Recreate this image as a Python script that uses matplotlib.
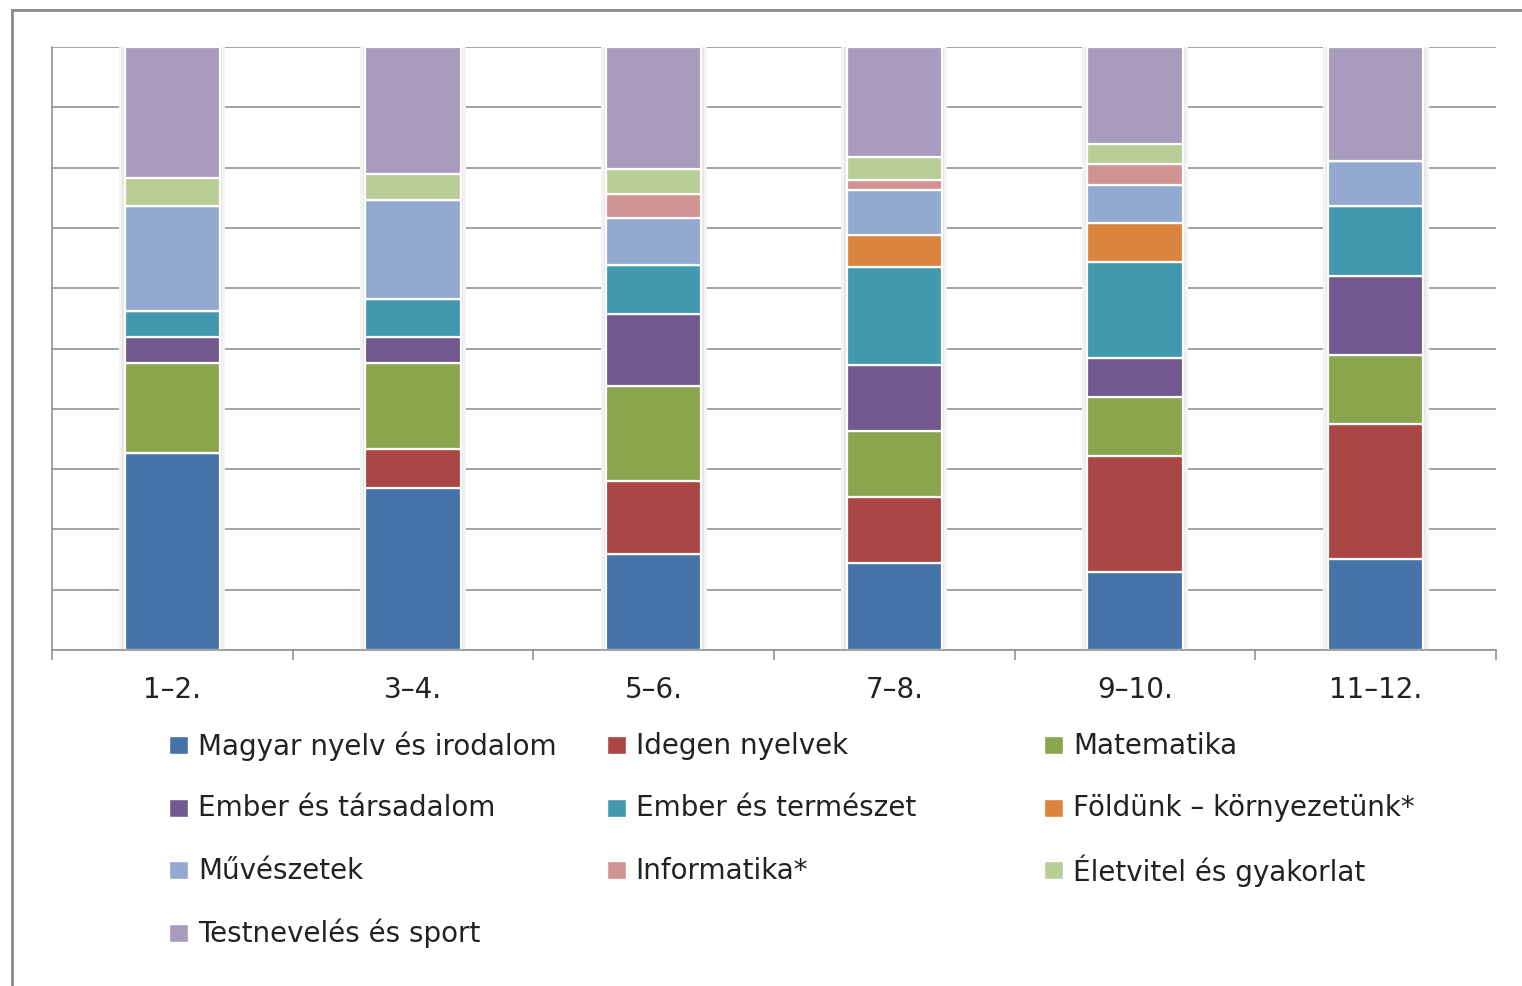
import numpy as np
import matplotlib
matplotlib.use("Agg")
import matplotlib.pyplot as plt
from matplotlib.patches import Rectangle
from matplotlib.lines import Line2D

plt.rcParams['font.family'] = ['DejaVu Sans']

grades = ['1–2.', '3–4.', '5–6.', '7–8.', '9–10.', '11–12.']

subjects = ['Magyar nyelv és irodalom', 'Idegen nyelvek', 'Matematika',
            'Ember és társadalom', 'Ember és természet', 'Földünk – környezetünk*',
            'Művészetek', 'Informatika*', 'Életvitel és gyakorlat',
            'Testnevelés és sport']

# share of each subject (%), per grade group
magyar = [32.6, 26.9, 16.0, 14.4, 12.9, 15.1]
idegen = [0.0, 6.5, 12.0, 11.0, 19.2, 22.3]
matek = [15.0, 14.2, 15.8, 10.9, 9.8, 11.5]
tarsadalom = [4.3, 4.3, 12.0, 11.0, 6.5, 13.1]
termeszet = [4.3, 6.3, 8.0, 16.2, 15.9, 11.7]
foldunk = [0.0, 0.0, 0.0, 5.3, 6.5, 0.0]
muveszet = [17.4, 16.5, 7.9, 7.5, 6.3, 7.4]
info = [0.0, 0.0, 4.0, 1.6, 3.5, 0.0]
eletvitel = [4.6, 4.2, 4.1, 3.8, 3.3, 0.0]
testneveles = [21.8, 21.1, 20.2, 18.3, 16.1, 18.9]

series = [magyar, idegen, matek, tarsadalom, termeszet, foldunk,
          muveszet, info, eletvitel, testneveles]
colors = ['#4572A7', '#AA4643', '#89A54E', '#71588F', '#4198AF',
          '#DB843D', '#93A9CF', '#D19392', '#B9CD96', '#A99BBD']

W, H = 1522, 986
fig = plt.figure(figsize=(W / 100, H / 100), dpi=100)
ax = fig.add_axes([52 / W, 1 - 650 / H, (1496 - 52) / W, (650 - 47) / H])

x = np.arange(len(grades))
data = np.array(series, dtype=float)
data = data / data.sum(axis=0) * 100

# soft shadow behind the bars
ax.bar(x, 100, width=0.44, color='#f3f3f3', zorder=1.5)
ax.bar(x, 100, width=0.415, color='#e6e6e6', zorder=1.6)

bottom = np.zeros(len(grades))
for vals, c in zip(data, colors):
    ax.bar(x, vals, bottom=bottom, width=0.395, color=c,
           edgecolor='white', linewidth=1.6, zorder=2)
    bottom += vals

ax.set_xlim(-0.5, len(grades) - 0.5)
ax.set_ylim(0, 100)
ax.set_yticks(np.arange(0, 101, 10))
ax.set_yticklabels([])
ax.tick_params(axis='y', length=0)
ax.grid(axis='y', color='#939393', linewidth=1.2, zorder=0)
ax.set_axisbelow(True)

ax.set_xticks(x)
ax.set_xticklabels(grades, fontsize=20)
ax.set_xticks(np.arange(-0.5, len(grades)), minor=True)
ax.tick_params(axis='x', which='major', length=0, pad=19, colors='#222222')
ax.tick_params(axis='x', which='minor', length=7, width=1.2, color='#939393')

for s in ['top', 'right']:
    ax.spines[s].set_visible(False)
for s in ['left', 'bottom']:
    ax.spines[s].set_color('#939393')
    ax.spines[s].set_linewidth(1.2)

# legend, filled row by row
for i, (name, c) in enumerate(zip(subjects, colors)):
    row, col = divmod(i, 3)
    px = 169 + col * 437.5
    py = 745 + row * 62.5
    fig.add_artist(Rectangle((px / W, 1 - (py + 9) / H), 19 / W, 18 / H,
                             transform=fig.transFigure, facecolor=c,
                             edgecolor='white', linewidth=1))
    fig.text((px + 29) / W, 1 - (py + 1) / H, name, fontsize=20,
             va='center', ha='left', color='#222222')

# outer frame
fig.add_artist(Line2D([12 / W, 12 / W], [0, 1 - 10 / H],
                      transform=fig.transFigure, color='#8a8a8a', linewidth=2))
fig.add_artist(Line2D([12 / W, 1], [1 - 10 / H, 1 - 10 / H],
                      transform=fig.transFigure, color='#8a8a8a', linewidth=2))

fig.savefig('out.png', dpi=100)
